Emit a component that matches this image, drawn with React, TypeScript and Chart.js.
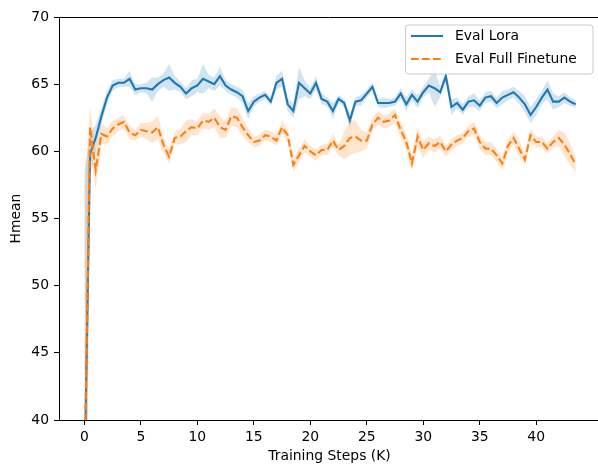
import React, { useEffect, useRef } from "react";
import { Chart, registerables } from "chart.js";

Chart.register(...registerables);

// Training steps (K)
const steps = [
  0, 0.5, 1, 1.5, 2, 2.5, 3, 3.5, 4, 4.5, 5, 5.5, 6, 6.5, 7, 7.5, 8, 8.5, 9, 9.5,
  10, 10.5, 11, 11.5, 12, 12.5, 13, 13.5, 14, 14.5, 15, 15.5, 16, 16.5, 17, 17.5, 18, 18.5, 19, 19.5,
  20, 20.5, 21, 21.5, 22, 22.5, 23, 23.5, 24, 24.5, 25, 25.5, 26, 26.5, 27, 27.5, 28, 28.5, 29, 29.5,
  30, 30.5, 31, 31.5, 32, 32.5, 33, 33.5, 34, 34.5, 35, 35.5, 36, 36.5, 37, 37.5, 38, 38.5, 39, 39.5,
  40, 40.5, 41, 41.5, 42, 42.5, 43, 43.5,
];

// Eval Lora mean Hmean
const loraMean = [
  35, 59.8, 61.0, 62.6, 64.0, 64.9, 65.1, 65.1, 65.4, 64.6, 64.7, 64.7, 64.6, 65.0, 65.3, 65.5, 65.1, 64.8, 64.3, 64.7,
  64.9, 65.4, 65.2, 65.0, 65.6, 64.9, 64.6, 64.4, 64.1, 63.0, 63.7, 64.0, 64.2, 63.7, 65.1, 65.4, 63.5, 63.0, 65.1, 64.7,
  64.3, 65.1, 63.9, 63.7, 63.0, 63.9, 63.6, 62.3, 63.7, 63.8, 64.3, 64.8, 63.6, 63.6, 63.6, 63.7, 64.3, 63.5, 64.2, 63.7,
  64.4, 64.9, 64.7, 64.4, 65.6, 63.3, 63.6, 63.1, 63.7, 63.8, 63.4, 64.0, 64.1, 63.6, 64.0, 64.2, 64.4, 64.0, 63.5, 62.7,
  63.3, 64.0, 64.6, 63.7, 63.7, 64.0, 63.7, 63.5,
];

// Eval Lora band half-width
const loraSpread = [
  23.5, 1.5, 1.0, 0.6, 0.5, 0.4, 0.3, 0.3, 0.6, 0.4, 0.3, 0.4, 0.9, 0.5, 0.5, 1.0, 0.5, 0.4, 0.4, 0.6,
  0.5, 1.1, 0.5, 0.5, 0.7, 0.4, 0.4, 0.4, 0.5, 0.6, 0.4, 0.3, 0.3, 0.3, 0.5, 0.6, 0.5, 0.5, 1.2, 0.6,
  0.4, 0.5, 0.4, 0.3, 0.6, 0.3, 0.3, 0.5, 0.3, 0.4, 0.3, 0.3, 0.3, 0.4, 0.3, 0.3, 0.4, 0.5, 0.4, 0.5,
  0.4, 0.5, 1.4, 0.4, 0.4, 0.6, 0.4, 0.4, 0.4, 0.5, 0.4, 0.4, 0.4, 0.4, 0.5, 0.4, 0.4, 0.5, 0.6, 0.6,
  0.6, 0.5, 0.7, 0.6, 0.4, 0.4, 0.3, 0.3,
];

// Eval Full Finetune mean Hmean
const fullMean = [
  35, 61.8, 58.6, 61.3, 61.1, 61.7, 62.0, 62.2, 61.4, 61.2, 61.6, 61.5, 61.4, 61.8, 60.5, 59.6, 61.0, 61.1, 61.5, 61.8,
  61.7, 62.3, 62.2, 62.5, 61.8, 61.6, 62.6, 62.5, 61.8, 61.2, 60.7, 60.8, 61.2, 61.1, 60.8, 61.8, 61.2, 59.0, 59.7, 60.4,
  60.0, 59.7, 60.1, 60.1, 60.8, 60.1, 60.4, 61.0, 61.1, 60.8, 60.8, 62.0, 62.5, 62.2, 62.3, 62.7, 61.6, 60.7, 59.1, 61.1,
  60.1, 60.6, 60.4, 60.7, 60.0, 60.5, 60.8, 61.0, 61.5, 61.7, 60.7, 60.2, 60.2, 59.7, 59.1, 60.4, 61.0, 60.2, 59.4, 61.2,
  60.7, 60.7, 60.2, 60.7, 61.0, 60.5, 59.8, 59.0,
];

// Eval Full Finetune band half-width
const fullSpread = [
  22, 1.5, 1.5, 0.8, 0.6, 0.6, 0.5, 0.5, 0.5, 0.4, 0.5, 0.6, 0.8, 0.9, 0.6, 0.5, 0.5, 0.6, 0.8, 0.6,
  0.5, 0.6, 0.6, 0.7, 0.8, 0.6, 0.7, 0.7, 0.7, 0.5, 0.4, 0.4, 0.4, 0.4, 0.4, 0.5, 0.5, 0.5, 0.5, 0.5,
  0.4, 0.4, 0.4, 0.4, 0.5, 0.4, 1.0, 1.3, 1.2, 0.8, 0.6, 0.5, 0.5, 0.5, 0.5, 0.5, 0.6, 0.6, 0.6, 0.7,
  0.6, 0.5, 0.5, 0.5, 0.4, 0.4, 0.4, 0.4, 0.4, 0.5, 0.5, 0.5, 0.5, 0.5, 0.5, 0.5, 0.5, 0.6, 0.5, 0.5,
  0.4, 0.4, 0.4, 0.4, 0.6, 0.9, 0.8, 0.6,
];

const xTicks = [0, 5, 10, 15, 20, 25, 30, 35, 40];
const yTicks = [40, 45, 50, 55, 60, 65, 70];
const seriesNames = ["Eval Lora", "Eval Full Finetune"];

const FONT = "DejaVu Sans";
const BLUE = "#1f77b4";
const ORANGE = "#ff7f0e";

const pts = (ys: number[]) => steps.map((x, i) => ({ x, y: ys[i] }));

const framePlugin = {
  id: "frame",
  afterDatasetsDraw(chart: any) {
    const { ctx, chartArea } = chart;
    ctx.save();
    ctx.strokeStyle = "#000";
    ctx.lineWidth = 1;
    ctx.beginPath();
    const t = Math.round(chartArea.top) + 0.5;
    ctx.moveTo(chartArea.left, t);
    ctx.lineTo(chartArea.right, t);
    ctx.stroke();
    ctx.restore();
  },
};

const legendPlugin = {
  id: "boxLegend",
  afterDraw(chart: any) {
    const { ctx, chartArea } = chart;
    const w = 187.5;
    const h = 49;
    const x0 = chartArea.right - 7 - w;
    const y0 = chartArea.top + 8;
    ctx.save();
    const r = 3;
    ctx.beginPath();
    ctx.moveTo(x0 + r, y0);
    ctx.lineTo(x0 + w - r, y0);
    ctx.arcTo(x0 + w, y0, x0 + w, y0 + r, r);
    ctx.lineTo(x0 + w, y0 + h - r);
    ctx.arcTo(x0 + w, y0 + h, x0 + w - r, y0 + h, r);
    ctx.lineTo(x0 + r, y0 + h);
    ctx.arcTo(x0, y0 + h, x0, y0 + h - r, r);
    ctx.lineTo(x0, y0 + r);
    ctx.arcTo(x0, y0, x0 + r, y0, r);
    ctx.closePath();
    ctx.fillStyle = "rgba(255,255,255,0.8)";
    ctx.fill();
    ctx.strokeStyle = "#cccccc";
    ctx.lineWidth = 1;
    ctx.stroke();

    const entries = [
      { name: seriesNames[0], color: BLUE, dash: [] as number[] },
      { name: seriesNames[1], color: ORANGE, dash: [7.7, 3.3] },
    ];
    entries.forEach((e, i) => {
      const y = y0 + 11 + i * 23;
      ctx.beginPath();
      ctx.setLineDash(e.dash);
      ctx.strokeStyle = e.color;
      ctx.lineWidth = 2.1;
      ctx.moveTo(x0 + 5.5, y);
      ctx.lineTo(x0 + 37.5, y);
      ctx.stroke();
      ctx.setLineDash([]);
      ctx.fillStyle = "#000";
      ctx.font = `13.9px "${FONT}"`;
      ctx.textBaseline = "middle";
      ctx.textAlign = "left";
      ctx.fillText(e.name, x0 + 49.5, y + 0.5);
    });
    ctx.restore();
  },
};

export default function App() {
  const ref = useRef<HTMLCanvasElement>(null);

  useEffect(() => {
    document.body.style.margin = "0";
    const canvas = ref.current;
    if (!canvas) return;

    const loraHigh = loraMean.map((v, i) => v + loraSpread[i]);
    const loraLow = loraMean.map((v, i) => v - loraSpread[i]);
    const fullHigh = fullMean.map((v, i) => v + fullSpread[i]);
    const fullLow = fullMean.map((v, i) => v - fullSpread[i]);

    const none = "rgba(0,0,0,0)";
    const tickFont = { family: FONT, size: 13.9 };

    const chart = new Chart(canvas, {
      type: "line",
      data: {
        datasets: [
          {
            label: seriesNames[0],
            data: pts(loraMean),
            borderColor: BLUE,
            borderWidth: 2.1,
            pointRadius: 0,
            tension: 0,
            fill: false,
            order: 3,
          },
          {
            label: "lora-high",
            data: pts(loraHigh),
            borderColor: none,
            borderWidth: 0,
            pointRadius: 0,
            tension: 0,
            backgroundColor: "rgba(31,119,180,0.2)",
            fill: { target: 2 },
            order: 4,
          },
          {
            label: "lora-low",
            data: pts(loraLow),
            borderColor: none,
            borderWidth: 0,
            pointRadius: 0,
            tension: 0,
            fill: false,
            order: 4,
          },
          {
            label: seriesNames[1],
            data: pts(fullMean),
            borderColor: ORANGE,
            borderWidth: 2.1,
            borderDash: [7.7, 3.3],
            pointRadius: 0,
            tension: 0,
            fill: false,
            order: 1,
          },
          {
            label: "full-high",
            data: pts(fullHigh),
            borderColor: none,
            borderWidth: 0,
            pointRadius: 0,
            tension: 0,
            backgroundColor: "rgba(255,127,14,0.2)",
            fill: { target: 5 },
            order: 2,
          },
          {
            label: "full-low",
            data: pts(fullLow),
            borderColor: none,
            borderWidth: 0,
            pointRadius: 0,
            tension: 0,
            fill: false,
            order: 2,
          },
        ],
      },
      options: {
        responsive: false,
        animation: false,
        devicePixelRatio: 1,
        layout: { padding: { top: 17, right: 0, left: 0, bottom: 0 } },
        plugins: {
          legend: { display: false },
          tooltip: { enabled: false },
        },
        scales: {
          x: {
            type: "linear",
            min: -2.25,
            max: 45.65,
            afterFit: (s: any) => {
              s.height = 46;
            },
            afterBuildTicks: (s: any) => {
              s.ticks = xTicks.map((v) => ({ value: v }));
            },
            grid: {
              drawOnChartArea: false,
              drawTicks: true,
              tickLength: 5,
              tickColor: "#000",
              tickWidth: 1,
            },
            border: { display: true, color: "#000", width: 1 },
            ticks: {
              color: "#000",
              font: tickFont,
              padding: 4,
              maxRotation: 0,
              autoSkip: false,
            },
            title: {
              display: true,
              text: "Training Steps (K)",
              color: "#000",
              font: tickFont,
              padding: { top: 0, bottom: 1 },
            },
          },
          y: {
            type: "linear",
            min: 40,
            max: 70,
            afterFit: (s: any) => {
              s.width = 59;
            },
            afterBuildTicks: (s: any) => {
              s.ticks = yTicks.map((v) => ({ value: v }));
            },
            grid: {
              drawOnChartArea: false,
              drawTicks: true,
              tickLength: 5,
              tickColor: "#000",
              tickWidth: 1,
            },
            border: { display: true, color: "#000", width: 1 },
            ticks: {
              color: "#000",
              font: tickFont,
              padding: 5,
              autoSkip: false,
            },
            title: {
              display: true,
              text: "Hmean",
              color: "#000",
              font: tickFont,
              padding: { top: 8, bottom: 0 },
            },
          },
        },
      },
      plugins: [framePlugin, legendPlugin],
    } as any);

    return () => chart.destroy();
  }, []);

  return (
    <div
      style={{
        position: "fixed",
        left: 0,
        top: 0,
        width: 598,
        height: 466,
        overflow: "hidden",
        background: "#fff",
      }}
    >
      <canvas ref={ref} width={600} height={466} style={{ display: "block", width: 600, height: 466 }} />
    </div>
  );
}
